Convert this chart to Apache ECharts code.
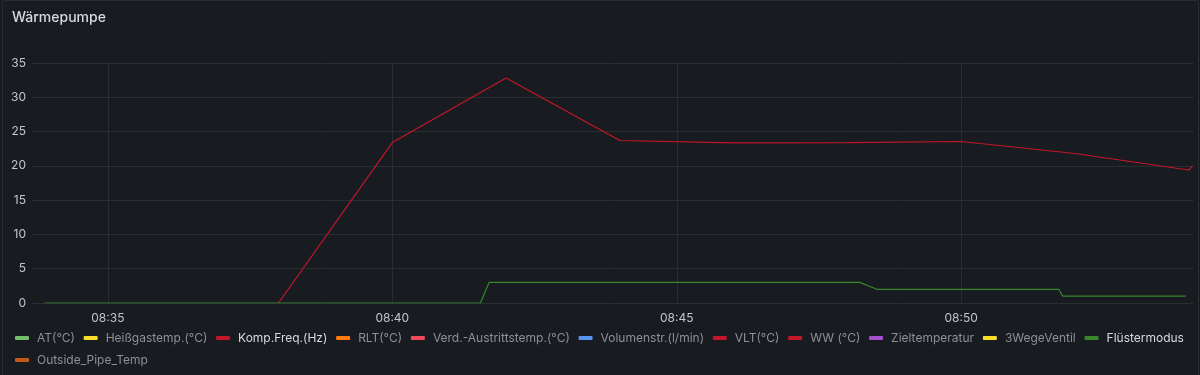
<!DOCTYPE html>
<html>
<head>
<meta charset="utf-8">
<script src="https://cdn.jsdelivr.net/npm/echarts@6/dist/echarts.min.js"></script>
<style>
html,body{margin:0;padding:0;background:#181b1f;}
#chart{position:absolute;left:0;top:0;width:1200px;height:375px;background:#181b1f;}
#frame{position:absolute;left:2px;top:0;width:1197px;height:380px;border:1px solid #2a2c32;border-radius:3px;box-sizing:border-box;pointer-events:none;}
</style>
</head>
<body>
<div id="chart"></div>
<div id="frame"></div>
<script>
// ---- data ----
const title = 'Wärmepumpe';
const seriesNames = ['AT(°C)', 'Heißgastemp.(°C)', 'Komp.Freq.(Hz)', 'RLT(°C)', 'Verd.-Austrittstemp.(°C)',
  'Volumenstr.(l/min)', 'VLT(°C)', 'WW (°C)', 'Zieltemperatur', '3WegeVentil', 'Flüstermodus', 'Outside_Pipe_Temp'];
const seriesColors = ['#73bf69', '#fade2a', '#c4162a', '#ff780a', '#f2495c',
  '#5794f2', '#c4162a', '#c4162a', '#a352cc', '#fade2a', '#37872d', '#c15c17'];
const activeSeries = ['Komp.Freq.(Hz)', 'Flüstermodus'];

const kompTimes  = ['08:38:00', '08:40:00', '08:42:00', '08:44:00', '08:46:00', '08:48:00', '08:50:00', '08:52:00', '08:54:00', '08:54:04'];
const kompValues = [0, 23.4, 32.8, 23.7, 23.35, 23.4, 23.55, 21.8, 19.4, 20.0];

const fluesterTimes  = ['08:33:53', '08:41:33', '08:41:42', '08:48:13', '08:48:31', '08:51:43', '08:51:47', '08:53:57'];
const fluesterValues = [0, 0, 3, 3, 2, 2, 1, 1];

const xTickLabels = ['08:35', '08:40', '08:45', '08:50'];
const xRange = ['08:33:40', '08:54:05'];
const yTicks = [0, 5, 10, 15, 20, 25, 30, 35];

// ---- helpers ----
function toMin(s) {
  const p = s.split(':').map(Number);
  return p[0] * 60 + p[1] + (p[2] || 0) / 60;
}
function fmt(v) {
  const tot = Math.round(v);
  const h = Math.floor(tot / 60), m = tot % 60;
  return String(h).padStart(2, '0') + ':' + String(m).padStart(2, '0');
}

const seriesData = {};
seriesData['Komp.Freq.(Hz)'] = kompTimes.map((t, i) => [toMin(t), kompValues[i]]);
seriesData['Flüstermodus'] = fluesterTimes.map((t, i) => [toMin(t), fluesterValues[i]]);

const textBright = '#d8d9de';
const textDim = '#8e8f98';
const axisText = '#c4c5cd';
const gridColor = '#2a2d32';
const FONT = 'Inter';

const row1 = seriesNames.slice(0, 11);
const row2 = seriesNames.slice(11);
function legendData(names) {
  return names.map(n => ({
    name: n,
    textStyle: { color: activeSeries.includes(n) ? textBright : textDim }
  }));
}
const legendCommon = {
  left: 15,
  orient: 'horizontal',
  padding: 0,
  icon: 'roundRect',
  itemWidth: 14,
  itemHeight: 4,
  itemGap: 8.8,
  selectedMode: false,
  textStyle: { fontFamily: FONT, fontSize: 12, padding: [0, 0, 0, 3], lineHeight: 14 }
};

const chart = echarts.init(document.getElementById('chart'), null, { renderer: 'canvas' });
chart.setOption({
  backgroundColor: '#181b1f',
  animation: false,
  title: {
    text: title, left: 12, top: 11, padding: 0,
    textStyle: { color: '#d8d9de', fontFamily: FONT, fontSize: 14, fontWeight: 500 }
  },
  legend: [
    Object.assign({}, legendCommon, { top: 331, data: legendData(row1) }),
    Object.assign({}, legendCommon, { top: 353, data: legendData(row2) })
  ],
  grid: { left: 32, right: 6.5, top: 63, bottom: 72, containLabel: false },
  xAxis: {
    type: 'value',
    min: toMin(xRange[0]),
    max: toMin(xRange[1]),
    axisLine: { show: false },
    axisTick: { show: false, customValues: xTickLabels.map(toMin) },
    axisLabel: {
      customValues: xTickLabels.map(toMin),
      formatter: v => fmt(v),
      color: axisText, fontFamily: FONT, fontSize: 12, margin: 9
    },
    splitLine: { show: true, lineStyle: { color: gridColor, width: 1 } }
  },
  yAxis: {
    type: 'value',
    min: yTicks[0],
    max: yTicks[yTicks.length - 1],
    interval: 5,
    axisLine: { show: false },
    axisTick: { show: false },
    axisLabel: { color: axisText, fontFamily: FONT, fontSize: 12, margin: 6 },
    splitLine: { show: true, lineStyle: { color: gridColor, width: 1 } }
  },
  series: seriesNames.map((n, i) => ({
    name: n,
    type: 'line',
    color: seriesColors[i],
    data: seriesData[n] || [],
    showSymbol: false,
    symbol: 'none',
    lineStyle: { width: 1.2, color: seriesColors[i] },
    z: n === 'Flüstermodus' ? 3 : 2
  }))
});
</script>
</body>
</html>
